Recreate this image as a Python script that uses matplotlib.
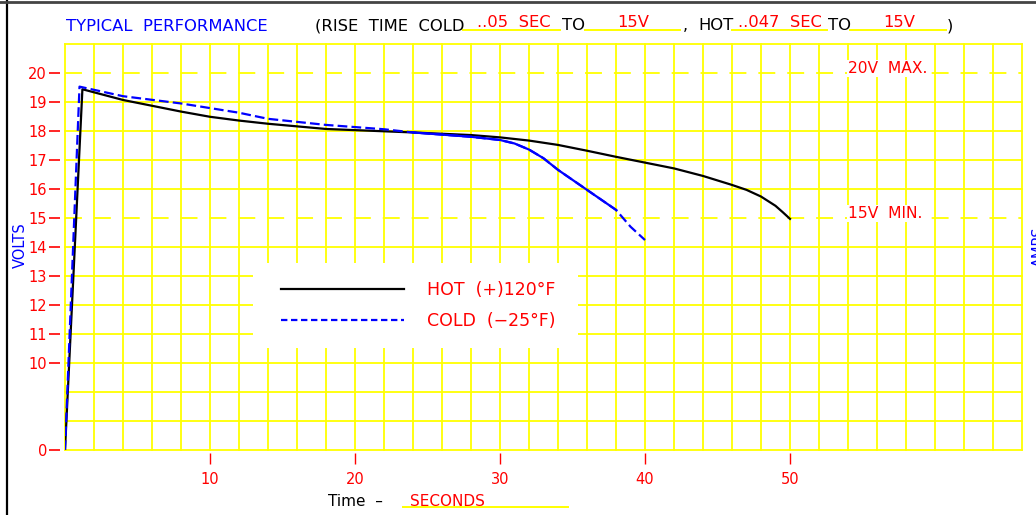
import numpy as np
import matplotlib
matplotlib.use("Agg")
import matplotlib.pyplot as plt
from matplotlib.lines import Line2D
from matplotlib.patches import Rectangle
from matplotlib.ticker import NullLocator

plt.rcParams['font.family'] = ['DejaVu Sans']
plt.rcParams['lines.scale_dashes'] = False

# ---------------- data ----------------
hot_time = [0, 1.2, 4, 8, 10, 12, 14, 18, 24, 28, 30, 32, 34, 36, 38, 40, 42, 44, 46, 47, 48, 49, 49.5, 50]
hot_volts = [0, 19.44, 19.07, 18.67, 18.49, 18.36, 18.25, 18.07, 17.95, 17.86, 17.78, 17.67,
             17.52, 17.32, 17.11, 16.91, 16.71, 16.45, 16.14, 15.97, 15.74, 15.42, 15.2, 14.97]
cold_time = [0, 1.0, 4, 8, 12, 14, 18, 22, 24, 28, 30, 31, 32, 33, 34, 36, 38, 39, 40]
cold_volts = [0, 19.53, 19.2, 18.95, 18.63, 18.42, 18.21, 18.06, 17.95, 17.8, 17.69, 17.57,
              17.36, 17.06, 16.66, 15.97, 15.28, 14.7, 14.24]
x_ticks = [10, 20, 30, 40, 50]
y_ticks = [0, 10, 11, 12, 13, 14, 15, 16, 17, 18, 19, 20]
legend_labels = ['HOT  (+)120°F', 'COLD  (−25°F)']
limit_volts = [20, 15]
limit_labels = ['20V  MAX.', '15V  MIN.']

W, H = 1036, 515
YEL = '#ffff00'
RED = '#ff0000'
BLUE = '#0000ff'


def px(x, y):
    return x / W, 1 - y / H


fig = plt.figure(figsize=(W / 100, H / 100), dpi=100)
AX_L, AX_T, AX_W, AX_H = 65, 44, 957, 406
ax = fig.add_axes([AX_L / W, (H - AX_T - AX_H) / H, AX_W / W, AX_H / H])


def axpx(x, y):
    return (x - AX_L) / AX_W, (AX_T + AX_H - y) / AX_H


def fwd(v):
    v = np.asarray(v, float)
    return np.where(v <= 10, v * 0.3, v - 7)


def inv(t):
    t = np.asarray(t, float)
    return np.where(t <= 3, t / 0.3, t + 7)


ax.set_yscale('function', functions=(fwd, inv))
ax.set_xlim(0, 66)
ax.set_ylim(0, 21)

# grid
GLW = 1.3
for gx in range(0, 67, 2):
    ax.axvline(gx, color=YEL, lw=GLW, zorder=1, clip_on=False)
for gv in inv(np.arange(0, 15)):
    if any(abs(gv - l) < 1e-6 for l in limit_volts):
        ax.axhline(gv, color=YEL, lw=GLW, zorder=1, clip_on=False,
                   dashes=(12.2, 8.6))
    else:
        ax.axhline(gv, color=YEL, lw=GLW, zorder=1, clip_on=False)

for s in ax.spines.values():
    s.set_color('none')
ax.spines['left'].set_position(('outward', 3.6))
ax.spines['bottom'].set_position(('outward', 2.2))
ax.set_xticks(x_ticks)
ax.set_yticks(y_ticks)
ax.yaxis.set_minor_locator(NullLocator())
ax.xaxis.set_minor_locator(NullLocator())
ax.set_yticklabels([str(v) for v in y_ticks])
ax.tick_params(axis='y', direction='out', length=7.9, width=1.2, color=RED,
               labelcolor=RED, labelsize=10.5, pad=1.4)
ax.tick_params(axis='x', direction='out', length=7.9, width=1.0, color=RED,
               labelcolor=RED, labelsize=10.5, pad=6.0)

# curves
hot_line, = ax.plot(hot_time, hot_volts, color='black', lw=1.6, zorder=3,
                    solid_joinstyle='round')
cold_line, = ax.plot(cold_time, cold_volts, color=BLUE, lw=1.6, zorder=3,
                     dashes=(7.0, 3.0))
ct = np.array(cold_time)
cv = np.array(cold_volts)
m = (ct >= 24) & (ct <= 38)
ax.plot(ct[m], cv[m], color=BLUE, lw=1.6, zorder=3, solid_joinstyle='round')

# limit labels
for v, lab in zip(limit_volts, limit_labels):
    ax.text(54.0, v, lab, color=RED, fontsize=11.2, va='baseline', ha='left', zorder=4,
            bbox=dict(facecolor='white', edgecolor='none', pad=0.5))

# legend: white panel + frameless legend
x0, y0 = axpx(253, 348)
x1, y1 = axpx(578, 263)
ax.add_patch(Rectangle((x0, y0), x1 - x0, y1 - y0, transform=ax.transAxes,
                       facecolor='white', edgecolor='none', zorder=4))
leg = ax.legend([hot_line, cold_line], legend_labels, loc='upper left',
                bbox_to_anchor=axpx(281, 281),
                frameon=False, labelcolor=RED, fontsize=12.5, handlelength=7.08,
                handletextpad=1.33, labelspacing=0.74, borderpad=0, borderaxespad=0)
leg.set_zorder(5)
leg.get_lines()[1].set_dashes((4.6, 2.6))

# header
header = [
    ('TYPICAL  PERFORMANCE', 66, 30.7, BLUE),
    ('(RISE  TIME  COLD', 315, 30.3, 'black'),
    ('..05  SEC', 477, 26.7, RED),
    ('TO', 562, 30.3, 'black'),
    ('15V', 617, 26.7, RED),
    (',', 683, 30.3, 'black'),
    ('HOT', 698, 30.3, 'black'),
    ('..047  SEC', 738, 26.7, RED),
    ('TO', 828, 30.3, 'black'),
    ('15V', 883, 26.7, RED),
    (')', 947, 30.3, 'black'),
]
for txt, x, y, c in header:
    fx, fy = px(x, y)
    fig.text(fx, fy, txt, color=c, fontsize=11.8, ha='left', va='baseline')

underlines = [(463, 560, 30), (585, 680, 30), (732, 827, 30), (850, 946, 30), (403, 568, 507)]
for ux0, ux1, uy in underlines:
    a, b = px(ux0, uy)
    c, d = px(ux1, uy)
    fig.add_artist(Line2D([a, c], [b, d], color=YEL, lw=1.4))

fx, fy = px(328, 505.7)
fig.text(fx, fy, 'Time  –', color='black', fontsize=11, ha='left', va='baseline')
fx, fy = px(410, 505.7)
fig.text(fx, fy, 'SECONDS', color=RED, fontsize=11, ha='left', va='baseline')

fx, fy = px(20, 245)
fig.text(fx, fy, 'VOLTS', color=BLUE, fontsize=10.5, rotation=90, ha='center', va='center')
fx, fy = px(1039, 247)
fig.text(fx, fy, 'AMPS', color=BLUE, fontsize=10.5, rotation=90, ha='center', va='center')

# frame
fig.add_artist(Line2D([7 / W, 7 / W], [0, 1], color='black', lw=1.6))
fig.add_artist(Line2D([0, 1], [1 - 1.5 / H, 1 - 1.5 / H], color='#444444', lw=2))

fig.savefig('out.png', dpi=100)
